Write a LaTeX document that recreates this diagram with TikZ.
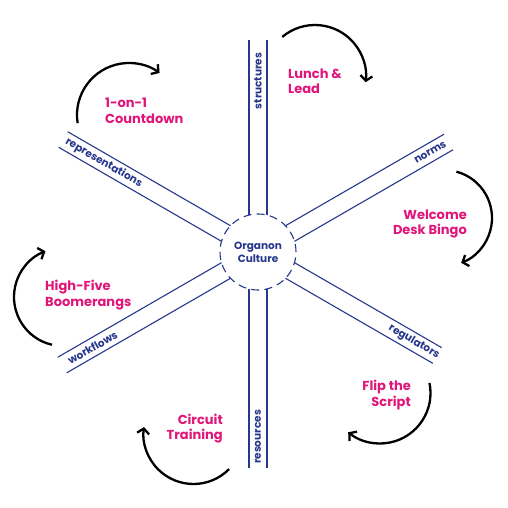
\documentclass[tikz,border=0pt]{standalone}
\usepackage{fontspec}
\setmainfont{Poppins}
\usetikzlibrary{arrows.meta,positioning}
\definecolor{navy}{RGB}{38,55,140}
\definecolor{orgpink}{RGB}{224,21,122}

\begin{document}
\begin{tikzpicture}[x=1pt,y=1pt,
    channel/.style={draw=navy, line width=1.1pt},
    armlabel/.style={text=navy, font=\bfseries\fontsize{10.5}{12}\selectfont, inner sep=0pt},
    idea/.style={text=orgpink, font=\bfseries\fontsize{13}{15.5}\selectfont, inner sep=0pt},
    loopback/.style={line width=2.3pt, -{Straight Barb[length=5pt,width=12pt]}}]
  \useasboundingbox (-258,-256) rectangle (250,252);
  \node[circle, draw=navy, line width=1.1pt, dash pattern=on 8pt off 5.25pt, minimum size=76pt,
        align=center, text=navy, font=\bfseries\fontsize{10.5}{13}\selectfont] (culture) at (0,0) {Organon\\Culture};
  \foreach \ang/\len/\lpos/\rot/\lab in {90/212/171/90/structures, 30/220/199/30/norms,
      -30/207/180/-30/regulators, -90/216/185/90/resources,
      -150/226/191/30/workflows, 150/225/178/-30/representations}{
    \begin{scope}[rotate=\ang]
      \draw[channel] (36.9,9) -- (\len,9) (36.9,-9) -- (\len,-9);
      \node[armlabel, rotate=\rot] (\lab) at (\lpos,0) {\lab};
    \end{scope}
  }
  \node[idea, anchor=west, align=left] (lunch) at (30,171) {Lunch \&\\Lead};
  \node[idea, anchor=west, align=left] (countdown) at (-153,141) {1-on-1\\Countdown};
  \node[idea, anchor=east, align=right] (bingo) at (209,28) {Welcome\\Desk Bingo};
  \node[idea, anchor=west, align=left] (boomerangs) at (-213,-43) {High-Five\\Boomerangs};
  \node[idea, anchor=east, align=right] (script) at (153,-143) {Flip the\\Script};
  \node[idea, anchor=east, align=right] (circuit) at (-35,-176.5) {Circuit\\Training};
  \foreach \cx/\cy/\sa/\ea/\r [count=\i] in {-129/137/189/54/52, 57/176/130/-7/51,
      186/34/75/-69/48, -195/-45/257/111/49, 122/-141/11.5/-129/50.5, -64.5/-182/-44.6/-188/50}{
    \coordinate (hub\i) at (\cx,\cy);
    \draw[loopback] (hub\i) ++(\sa:\r) arc[start angle=\sa, end angle=\ea, radius=\r];
  }
\end{tikzpicture}
\end{document}
